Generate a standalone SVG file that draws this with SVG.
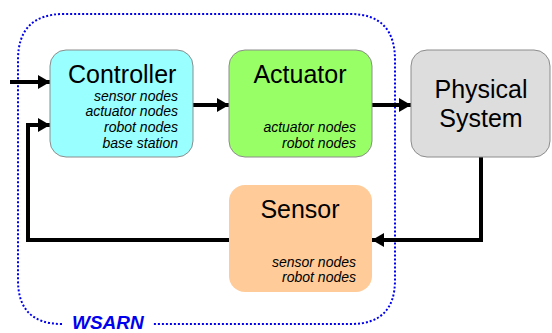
<svg xmlns="http://www.w3.org/2000/svg" width="552" height="333" viewBox="0 0 552 333">
  <style>
    .title { font-family: "Liberation Sans", Arial, sans-serif; font-size: 25px; fill: #000; }
    .sub { font-family: "Liberation Sans", Arial, sans-serif; font-size: 14px; font-style: italic; fill: #000; text-anchor: end; }
    .conn { fill: none; stroke: #000; stroke-width: 4; }
    .boundary { fill: none; stroke: #0000ee; stroke-width: 2; stroke-dasharray: 2 2; }
    .label { font-family: "Liberation Sans", Arial, sans-serif; font-size: 19px; font-weight: bold; font-style: italic; fill: #0000ee; }
  </style>
  <defs>
    <marker id="arrow" viewBox="0 0 12 14" refX="12" refY="7" markerWidth="12" markerHeight="14" markerUnits="userSpaceOnUse" orient="auto">
      <path d="M0,0 L12,7 L0,14 Z" fill="#000"/>
    </marker>
  </defs>
  <rect width="552" height="333" fill="#fff"/>

  <!-- WSARN boundary -->
  <g id="wsarn">
    <path class="boundary" d="M62,324 Q18,324 18,280 L18,60 Q18,14 64,14 L350,14 Q395,14 395,60 L395,280 Q395,324 351,324 L152,324"/>
    <text class="label" x="72" y="329">WSARN</text>
  </g>

  <!-- connectors -->
  <g id="connectors">
    <line class="conn" x1="10" y1="82" x2="50" y2="82" marker-end="url(#arrow)"/>
    <line class="conn" x1="193" y1="105" x2="229" y2="105" marker-end="url(#arrow)"/>
    <line class="conn" x1="372" y1="105" x2="411" y2="105" marker-end="url(#arrow)"/>
    <polyline class="conn" points="481,157 481,240 372,240" marker-end="url(#arrow)"/>
    <polyline class="conn" points="229,240 28,240 28,125 50,125" marker-end="url(#arrow)"/>
  </g>

  <g id="controller">
    <rect x="50" y="50" width="143" height="107" rx="16" fill="#99ffff" stroke="#8c8c8c" stroke-width="1"/>
    <text class="title" x="68" y="83">Controller</text>
    <text class="sub" x="178" y="101">sensor nodes</text>
    <text class="sub" x="178" y="116">actuator nodes</text>
    <text class="sub" x="178" y="132">robot nodes</text>
    <text class="sub" x="178" y="148">base station</text>
  </g>

  <g id="actuator">
    <rect x="229" y="50" width="143" height="107" rx="16" fill="#99ff66" stroke="#8c8c8c" stroke-width="1"/>
    <text class="title" x="300" y="83" text-anchor="middle">Actuator</text>
    <text class="sub" x="356" y="132">actuator nodes</text>
    <text class="sub" x="356" y="148">robot nodes</text>
  </g>

  <g id="physical-system">
    <rect x="411" y="50" width="139" height="107" rx="16" fill="#dddddd" stroke="#8c8c8c" stroke-width="1"/>
    <text class="title" x="481" y="98" text-anchor="middle">Physical</text>
    <text class="title" x="481" y="127" text-anchor="middle">System</text>
  </g>

  <g id="sensor">
    <rect x="229" y="185" width="143" height="107" rx="16" fill="#ffcc99"/>
    <text class="title" x="300" y="218" text-anchor="middle">Sensor</text>
    <text class="sub" x="356" y="267">sensor nodes</text>
    <text class="sub" x="356" y="282">robot nodes</text>
  </g>
</svg>
